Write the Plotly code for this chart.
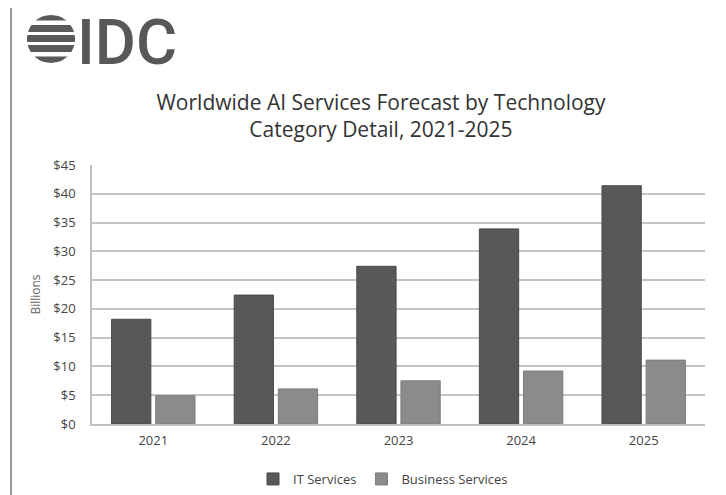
import numpy as np
import plotly.graph_objects as go

years = ["2021", "2022", "2023", "2024", "2025"]
it_services = [18.2, 22.4, 27.4, 33.9, 41.4]
business_services = [4.9, 6.1, 7.5, 9.2, 11.1]
y_ticks = [0, 5, 10, 15, 20, 25, 30, 35, 40, 45]
y_tick_labels = ["$" + str(v) for v in y_ticks]

W, H = 726, 495
ML, MR, MT, MB = 92, 21, 165, 71
PW, PH = W - ML - MR, H - MT - MB


def px(x):
    return (x - ML) / PW


def py(y):
    return (H - MB - y) / PH


fig = go.Figure()
fig.add_trace(go.Bar(
    name="IT Services", x=years, y=it_services,
    marker=dict(color="#585858", line=dict(color="#4a4a4a", width=1)),
))
fig.add_trace(go.Bar(
    name="Business Services", x=years, y=business_services,
    marker=dict(color="#8b8b8b", line=dict(color="#7c7c7c", width=1)),
))

shapes = []
# left border line
shapes.append(dict(type="line", xref="paper", yref="paper",
                   x0=px(11), x1=px(11), y0=py(8), y1=py(495),
                   line=dict(color="#9a9a9a", width=2)))
# globe logo (striped circle)
cx, cy, r = 51, 39, 24
bands = [(15, 20.5), (25, 32), (35, 42), (45, 52), (56.5, 63)]
for y0, y1 in bands:
    ys = np.linspace(y0, y1, 8)
    left = [(cx - np.sqrt(max(r * r - (yy - cy) ** 2, 0)), yy) for yy in ys]
    right = [(cx + np.sqrt(max(r * r - (yy - cy) ** 2, 0)), yy) for yy in ys[::-1]]
    pts = left + right
    path = "M " + " L ".join(f"{px(a):.5f},{py(b):.5f}" for a, b in pts) + " Z"
    shapes.append(dict(type="path", xref="paper", yref="paper", path=path,
                       fillcolor="#5a5a5a", line=dict(width=0)))

annotations = [
    dict(text="IDC", xref="paper", yref="paper", x=px(75), y=py(42),
         xanchor="left", yanchor="middle", showarrow=False,
         font=dict(family="Roboto", size=63, color="#585858", weight=500)),
]

fig.update_layout(
    width=W, height=H,
    margin=dict(l=ML, r=MR, t=MT, b=MB, autoexpand=False),
    paper_bgcolor="white", plot_bgcolor="white",
    barmode="group", bargap=0.28, bargroupgap=0.11,
    font=dict(family="Open Sans", color="#444444", size=13),
    title=dict(text="Worldwide AI Services Forecast by Technology<br>Category Detail, 2021-2025",
               x=381 / W, xanchor="center", xref="container",
               y=1 - 110 / H, yanchor="top", yref="container",
               font=dict(family="Open Sans", size=21, color="#333333")),
    xaxis=dict(showgrid=False, showline=True, linecolor="#c0c0c0", linewidth=1.5,
               ticks="", ticklabelstandoff=4, tickfont=dict(size=13, color="#444444")),
    yaxis=dict(range=[0, 45], tickvals=y_ticks, ticktext=y_tick_labels,
               showgrid=True, gridcolor="#c4c4c4", gridwidth=1.5,
               showline=True, linecolor="#c0c0c0", linewidth=1.5,
               ticks="", ticklabelstandoff=12, zeroline=False,
               tickfont=dict(size=13, color="#444444"),
               title=dict(text="Billions", standoff=10,
                          font=dict(size=12, color="#666666"))),
    legend=dict(orientation="h", x=px(383), xanchor="center", y=py(479), yanchor="middle",
                font=dict(size=13, color="#444444"), traceorder="normal",
                itemwidth=30),
    shapes=shapes,
    annotations=annotations,
)

fig.write_html("out.html")
